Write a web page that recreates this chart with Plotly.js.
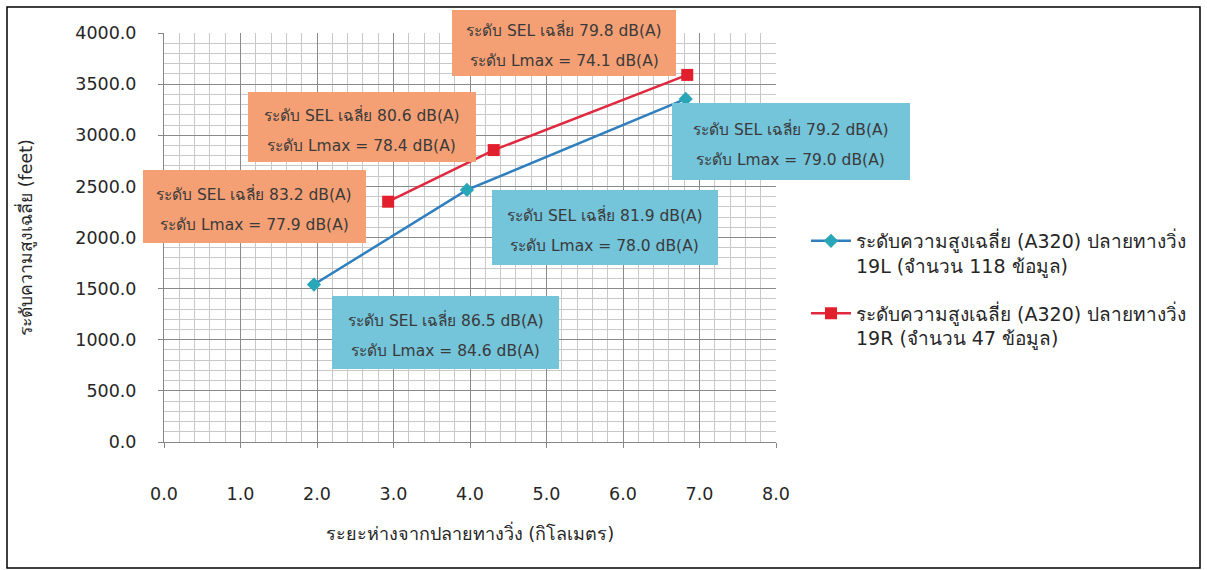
<!DOCTYPE html>
<html>
<head>
<meta charset="utf-8">
<script src="https://cdn.plot.ly/plotly-3.0.1.min.js"></script>
<style>
  html, body { margin: 0; padding: 0; background: #ffffff; }
  #chart { width: 1207px; height: 570px; }
</style>
</head>
<body>
<div id="chart"></div>
<script>
// Average approach altitude vs. distance from runway end (A320)
const distance19L = [1.96, 3.96, 6.82];
const altitude19L = [1540, 2465, 3355];
const sel19L = [86.5, 81.9, 79.2];
const lmax19L = [84.6, 78.0, 79.0];

const distance19R = [2.93, 4.31, 6.84];
const altitude19R = [2350, 2855, 3590];
const sel19R = [83.2, 80.6, 79.8];
const lmax19R = [77.9, 78.4, 74.1];

const seriesNames = [
  'ระดับความสูงเฉลี่ย (A320) ปลายทางวิ่ง<br>19L (จำนวน 118 ข้อมูล)',
  'ระดับความสูงเฉลี่ย (A320) ปลายทางวิ่ง<br>19R (จำนวน 47 ข้อมูล)'
];
const xTitle = 'ระยะห่างจากปลายทางวิ่ง (กิโลเมตร)';
const yTitle = 'ระดับความสูงเฉลี่ย (feet)';

const FONT = 'Tahoma, "DejaVu Sans", "Noto Sans", sans-serif';
const W = 1207, H = 570;
const M = { l: 164, r: 431, t: 33, b: 128 };
const plotW = W - M.l - M.r, plotH = H - M.t - M.b;
const px2paperX = p => (p - M.l) / plotW;
const px2paperY = p => (H - M.b - p) / plotH;

const ORANGE = '#f5a074';
const BLUE = '#74c4da';
const TEXT_DY = 3, LINE_GAP = 31;

// Label boxes: pixel offset of box centre from its point, and box size
const boxes19L = [
  { dx: 132, dy: -48, w: 227, h: 73 },
  { dx: 138, dy: -38, w: 226, h: 75 },
  { dx: 105, dy: -43, w: 238, h: 77 }
];
const boxes19R = [
  { dx: -134, dy: -5, w: 223, h: 73 },
  { dx: -132, dy: 23, w: 228, h: 70 },
  { dx: -123, dy: 32, w: 224, h: 66 }
];

function labelAnnotations(xs, ys, sels, lmaxs, boxes, color) {
  const out = [];
  xs.forEach((x, i) => {
    const b = boxes[i];
    out.push({
      x: x, y: ys[i], xref: 'x', yref: 'y', showarrow: false,
      xshift: b.dx, yshift: b.dy, text: ' ',
      width: b.w, height: b.h, bgcolor: color, borderpad: 0, borderwidth: 0
    });
    const lines = ['ระดับ SEL เฉลี่ย ' + sels[i].toFixed(1) + ' dB(A)',
                   'ระดับ Lmax = ' + lmaxs[i].toFixed(1) + ' dB(A)'];
    lines.forEach((t, k) => {
      const off = (k === 0 ? -LINE_GAP / 2 : LINE_GAP / 2) + TEXT_DY;
      out.push({
        x: x, y: ys[i], xref: 'x', yref: 'y', showarrow: false,
        xshift: b.dx, yshift: b.dy - off, text: t,
        font: { family: FONT, size: 15.5, color: '#3a3a3a' }
      });
    });
  });
  return out;
}

const traces = [
  {
    x: distance19L, y: altitude19L, name: seriesNames[0], legendgroup: '19L',
    type: 'scatter', mode: 'lines+markers',
    line: { color: '#2f7fbf', width: 2.5 },
    marker: { symbol: 'diamond', size: 11, color: '#2aa6b9' }
  },
  {
    x: distance19R, y: altitude19R, name: seriesNames[1], legendgroup: '19R',
    type: 'scatter', mode: 'lines+markers',
    line: { color: '#e0283f', width: 2.5 },
    marker: { symbol: 'square', size: 12, color: '#e21f2c' }
  }
];

const axisCommon = {
  showline: true, linecolor: '#868686', linewidth: 1,
  showgrid: true, gridcolor: '#8a8a8a', gridwidth: 1,
  ticks: 'outside', ticklen: 5, tickcolor: '#868686',
  zeroline: false, tickformat: '.1f',
  tickfont: { family: FONT, size: 17.5, color: '#262626' }
};

const layout = {
  width: W, height: H, margin: M,
  paper_bgcolor: '#ffffff', plot_bgcolor: '#ffffff',
  showlegend: true,
  legend: {
    x: px2paperX(806), y: px2paperY(222), xanchor: 'left', yanchor: 'top',
    font: { family: FONT, size: 19, color: '#262626' },
    itemwidth: 40, valign: 'top', traceorder: 'grouped',
    tracegroupgap: 20, bgcolor: 'rgba(0,0,0,0)'
  },
  xaxis: Object.assign({}, axisCommon, {
    range: [0, 8], dtick: 1, tick0: 0, ticklabelstandoff: 31,
    minor: { dtick: 0.2, showgrid: true, gridcolor: '#c8c8c8', gridwidth: 1 },
    title: { text: xTitle, standoff: 24, font: { family: FONT, size: 18, color: '#262626' } }
  }),
  yaxis: Object.assign({}, axisCommon, {
    range: [0, 4000], dtick: 500, tick0: 0, ticklabelstandoff: 18,
    minor: { dtick: 100, showgrid: true, gridcolor: '#c8c8c8', gridwidth: 1 },
    title: { text: yTitle, standoff: 38, font: { family: FONT, size: 17.5, color: '#262626' } }
  }),
  annotations: labelAnnotations(distance19R, altitude19R, sel19R, lmax19R, boxes19R, ORANGE)
    .concat(labelAnnotations(distance19L, altitude19L, sel19L, lmax19L, boxes19L, BLUE)),
  shapes: [{
    type: 'rect', xref: 'paper', yref: 'paper', layer: 'above',
    x0: px2paperX(7), x1: px2paperX(1200), y0: px2paperY(568), y1: px2paperY(7),
    line: { color: '#000000', width: 1.5 }, fillcolor: 'rgba(0,0,0,0)'
  }]
};

Plotly.newPlot('chart', traces, layout, { staticPlot: true, displayModeBar: false });
</script>
</body>
</html>
